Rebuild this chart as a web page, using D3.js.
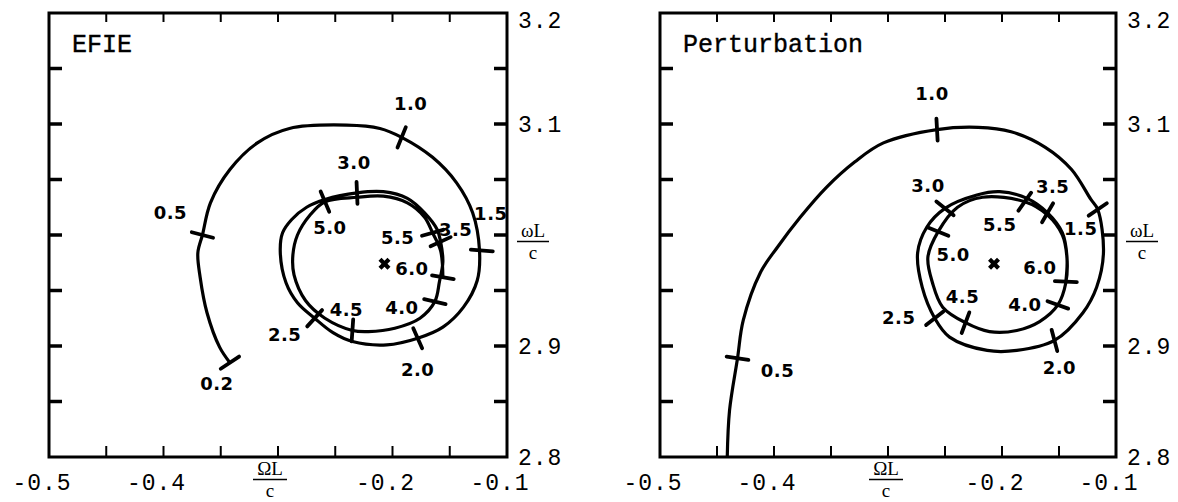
<!DOCTYPE html>
<html>
<head>
<meta charset="utf-8">
<script src="https://cdn.jsdelivr.net/npm/d3@7"></script>
<style>
  html, body { margin: 0; padding: 0; background: #fff; }
  svg { display: block; }
</style>
</head>
<body>
<svg id="chart" width="1178" height="502"></svg>
<script>
// ---- axis ticks ----
const xMajorTicks = [-0.5, -0.4, -0.3, -0.2, -0.1];
const xTickLabels = ["-0.5", "-0.4", "", "-0.2", "-0.1"];   // -0.3 carries the ΩL/c title
const yMajorTicks = [2.8, 2.9, 3.0, 3.1, 3.2];
const yTickLabels = ["2.8", "2.9", "", "3.1", "3.2"];       // 3.0 carries the ωL/c title

// ---- EFIE trajectory of the complex resonance (ΩL/c, ωL/c) ----
const efieRe = [-0.342, -0.351, -0.362, -0.368, -0.370, -0.366, -0.359, -0.342, -0.318, -0.290,
  -0.240, -0.211, -0.192, -0.165, -0.144, -0.130, -0.124, -0.126, -0.138, -0.156,
  -0.178, -0.205, -0.235, -0.252, -0.268, -0.283, -0.293, -0.298, -0.296, -0.288,
  -0.275, -0.259, -0.231, -0.208, -0.187, -0.172, -0.161, -0.158, -0.156, -0.159,
  -0.163, -0.176, -0.198, -0.221, -0.235, -0.259, -0.276, -0.286, -0.287, -0.283,
  -0.272, -0.259, -0.231, -0.208, -0.187, -0.172, -0.165, -0.158, -0.156];
const efieIm = [2.885, 2.899, 2.930, 2.962, 2.984, 3.000, 3.029, 3.059, 3.083, 3.096,
  3.099, 3.096, 3.088, 3.070, 3.047, 3.020, 2.986, 2.959, 2.935, 2.917,
  2.907, 2.901, 2.904, 2.912, 2.925, 2.939, 2.957, 2.984, 3.002, 3.014,
  3.025, 3.032, 3.038, 3.039, 3.033, 3.020, 3.005, 2.994, 2.976, 2.958,
  2.940, 2.925, 2.916, 2.913, 2.914, 2.925, 2.941, 2.964, 2.982, 3.000,
  3.018, 3.030, 3.034, 3.035, 3.029, 3.016, 3.002, 2.986, 2.962];

const efieMarkFreq = [0.2, 0.5, 1.0, 1.5, 2.0, 2.5, 3.0, 3.5, 4.0, 4.5, 5.0, 5.5, 6.0];
const efieMarkRe = [-0.342, -0.366, -0.192, -0.122, -0.178, -0.268, -0.231, -0.158, -0.163, -0.235, -0.259, -0.165, -0.156];
const efieMarkIm = [2.885, 3.000, 3.088, 2.986, 2.907, 2.925, 3.038, 2.994, 2.940, 2.914, 3.030, 3.002, 2.962];

// ---- perturbation trajectory ----
const pertRe = [-0.441, -0.439, -0.432, -0.427, -0.412, -0.397, -0.377, -0.354, -0.329, -0.304,
  -0.257, -0.221, -0.192, -0.162, -0.139, -0.122, -0.116, -0.111, -0.117, -0.129,
  -0.154, -0.187, -0.213, -0.246, -0.259, -0.270, -0.274, -0.266, -0.250, -0.222,
  -0.202, -0.178, -0.160, -0.147, -0.143, -0.144, -0.151, -0.167, -0.187, -0.211,
  -0.232, -0.252, -0.261, -0.265, -0.256, -0.239, -0.217, -0.180, -0.160, -0.147,
  -0.143, -0.144];
const pertIm = [2.800, 2.842, 2.889, 2.923, 2.966, 2.989, 3.016, 3.043, 3.066, 3.083,
  3.095, 3.097, 3.093, 3.079, 3.059, 3.032, 3.023, 2.984, 2.953, 2.930,
  2.905, 2.896, 2.896, 2.908, 2.925, 2.953, 2.984, 3.007, 3.024, 3.036,
  3.039, 3.033, 3.020, 3.002, 2.980, 2.957, 2.937, 2.922, 2.914, 2.913,
  2.921, 2.935, 2.957, 2.980, 3.003, 3.025, 3.034, 3.030, 3.018, 3.000,
  2.979, 2.958];

const pertMarkFreq = [0.5, 1.0, 1.5, 2.0, 2.5, 3.0, 3.5, 4.0, 4.5, 5.0, 5.5, 6.0];
const pertMarkRe = [-0.432, -0.257, -0.116, -0.154, -0.259, -0.250, -0.160, -0.151, -0.232, -0.256, -0.180, -0.144];
const pertMarkIm = [2.889, 3.095, 3.023, 2.905, 2.925, 3.024, 3.020, 2.937, 2.921, 3.003, 3.030, 2.958];

// converged resonance
const resonanceRe = [-0.207];
const resonanceIm = [2.974];

// ---- layout: label placement relative to each marker (px) ----
const efieLabelShift = {
  "0.2": [-13, 21], "0.5": [-32, -22], "1.0": [9, -34], "1.5": [9, -37], "2.0": [0, 31],
  "2.5": [-30, 16], "3.0": [-3, -30], "3.5": [15, -12], "4.0": [-33, 6], "4.5": [-6, -21],
  "5.0": [5, 26], "5.5": [-35, 5], "6.0": [-31, -9]
};
const pertLabelShift = {
  "0.5": [40, 12], "1.0": [-5, -36], "1.5": [-17, 19], "2.0": [5, 27], "2.5": [-36, -1],
  "3.0": [-17, -23], "3.5": [5, -26], "4.0": [-33, 0], "4.5": [-3, -26], "5.0": [15, 23],
  "5.5": [-25, 23], "6.0": [-26, -14]
};

const panels = [
  { title: "EFIE", left: 49, right: 507, re: efieRe, im: efieIm,
    mf: efieMarkFreq, mr: efieMarkRe, mi: efieMarkIm, shift: efieLabelShift, fracDx: -8 },
  { title: "Perturbation", left: 660, right: 1116, re: pertRe, im: pertIm,
    mf: pertMarkFreq, mr: pertMarkRe, mi: pertMarkIm, shift: pertLabelShift, fracDx: -2 }
];
const frameTop = 13, frameBottom = 457;

const svg = d3.select("#chart");
const fmt = d3.format(".1f");
const monoFont = "'Liberation Mono', 'Courier New', monospace";
const handFont = "'DejaVu Sans', sans-serif";
const serifFont = "'Liberation Serif', 'Times New Roman', serif";

panels.forEach(p => {
  const x = d3.scaleLinear().domain([-0.5, -0.1]).range([p.left, p.right]);
  const y = d3.scaleLinear().domain([2.8, 3.2]).range([frameBottom, frameTop]);
  const g = svg.append("g");

  // frame
  g.append("rect")
    .attr("x", p.left).attr("y", frameTop)
    .attr("width", p.right - p.left).attr("height", frameBottom - frameTop)
    .attr("fill", "none").attr("stroke", "#000").attr("stroke-width", 3);

  // ticks every 0.05, pointing inward
  const xt = x.ticks(8).filter(v => v > -0.5 + 1e-9 && v < -0.1 - 1e-9);
  const yt = y.ticks(8).filter(v => v > 2.8 + 1e-9 && v < 3.2 - 1e-9);
  g.selectAll(".xtb").data(xt).join("line")
    .attr("x1", d => x(d)).attr("x2", d => x(d))
    .attr("y1", frameBottom).attr("y2", frameBottom - 11)
    .attr("stroke", "#000").attr("stroke-width", 2);
  g.selectAll(".xtt").data(xt).join("line")
    .attr("x1", d => x(d)).attr("x2", d => x(d))
    .attr("y1", frameTop).attr("y2", frameTop + 9)
    .attr("stroke", "#000").attr("stroke-width", 2);
  g.selectAll(".ytl").data(yt).join("line")
    .attr("x1", p.left).attr("x2", p.left + 13)
    .attr("y1", d => y(d)).attr("y2", d => y(d))
    .attr("stroke", "#000").attr("stroke-width", 3.5);
  g.selectAll(".ytr").data(yt).join("line")
    .attr("x1", p.right).attr("x2", p.right - 13)
    .attr("y1", d => y(d)).attr("y2", d => y(d))
    .attr("stroke", "#000").attr("stroke-width", 3.5);

  // x tick labels
  g.selectAll(".xl").data(xMajorTicks).join("text")
    .attr("x", d => x(d) - 7).attr("y", frameBottom + 33)
    .attr("text-anchor", "middle")
    .attr("font-family", monoFont).attr("font-size", 23)
    .attr("letter-spacing", 1)
    .text((d, i) => xTickLabels[i]);

  // y tick labels (right side)
  g.selectAll(".yl").data(yMajorTicks).join("text")
    .attr("x", p.right + 11)
    .attr("y", d => Math.max(y(d), frameTop + 7))
    .attr("dy", "0.35em")
    .attr("font-family", monoFont).attr("font-size", 23)
    .attr("letter-spacing", 1)
    .text((d, i) => yTickLabels[i]);

  // ΩL/c below the x axis
  const xc = x(-0.3) + p.fracDx;
  g.append("text").attr("x", xc).attr("y", frameBottom + 18)
    .attr("text-anchor", "middle").attr("font-family", serifFont).attr("font-size", 19)
    .text("ΩL");
  g.append("line").attr("x1", xc - 17).attr("x2", xc + 17)
    .attr("y1", frameBottom + 22.5).attr("y2", frameBottom + 22.5)
    .attr("stroke", "#000").attr("stroke-width", 1.5);
  g.append("text").attr("x", xc).attr("y", frameBottom + 40)
    .attr("text-anchor", "middle").attr("font-family", serifFont).attr("font-size", 19)
    .text("c");

  // ωL/c beside the y axis
  const yc = y(3.0);
  const wx = p.right + 26;
  g.append("text").attr("x", wx).attr("y", yc + 2)
    .attr("text-anchor", "middle").attr("font-family", serifFont).attr("font-size", 19)
    .text("ωL");
  g.append("line").attr("x1", wx - 16).attr("x2", wx + 16)
    .attr("y1", yc + 6.5).attr("y2", yc + 6.5)
    .attr("stroke", "#000").attr("stroke-width", 1.5);
  g.append("text").attr("x", wx).attr("y", yc + 24)
    .attr("text-anchor", "middle").attr("font-family", serifFont).attr("font-size", 19)
    .text("c");

  // panel title
  g.append("text").attr("x", p.left + 23).attr("y", frameTop + 39)
    .attr("font-family", monoFont).attr("font-size", 25)
    .attr("stroke", "#000").attr("stroke-width", 0.4)
    .text(p.title);

  // trajectory
  const pts = p.re.map((r, i) => [x(r), y(p.im[i])]);
  const line = d3.line().curve(d3.curveCatmullRom.alpha(0.5));
  g.append("path").attr("d", line(pts))
    .attr("fill", "none").attr("stroke", "#000").attr("stroke-width", 3.2)
    .attr("stroke-linejoin", "round").attr("stroke-linecap", "butt");

  // frequency markers: short strokes across the curve
  const marks = p.mf.map((f, i) => ({ f, px: x(p.mr[i]), py: y(p.mi[i]) }));
  marks.forEach(m => {
    let best = 0, bd = Infinity;
    for (let i = 0; i < pts.length - 1; i++) {
      const mx = (pts[i][0] + pts[i + 1][0]) / 2, my = (pts[i][1] + pts[i + 1][1]) / 2;
      const d = (mx - m.px) ** 2 + (my - m.py) ** 2;
      if (d < bd) { bd = d; best = i; }
    }
    const dx = pts[best + 1][0] - pts[best][0], dy = pts[best + 1][1] - pts[best][1];
    const len = Math.hypot(dx, dy) || 1;
    m.nx = -dy / len; m.ny = dx / len;
  });
  g.selectAll(".mk").data(marks).join("line")
    .attr("x1", m => m.px - 11 * m.nx).attr("y1", m => m.py - 11 * m.ny)
    .attr("x2", m => m.px + 11 * m.nx).attr("y2", m => m.py + 11 * m.ny)
    .attr("stroke", "#000").attr("stroke-width", 3.8).attr("stroke-linecap", "round");

  g.selectAll(".ml").data(marks).join("text")
    .attr("x", m => m.px + p.shift[fmt(m.f)][0])
    .attr("y", m => m.py + p.shift[fmt(m.f)][1])
    .attr("dy", "0.36em")
    .attr("text-anchor", "middle")
    .attr("font-family", handFont).attr("font-size", 18).attr("font-weight", "bold")
    .attr("letter-spacing", 0.5)
    .text(m => fmt(m.f));

  // converged resonance point
  g.selectAll(".star").data(resonanceRe).join("path")
    .attr("d", d3.symbol(d3.symbolCross, 90))
    .attr("transform", (d, i) => `translate(${x(d)},${y(resonanceIm[i])}) rotate(45)`)
    .attr("fill", "#000");
});
</script>
</body>
</html>
